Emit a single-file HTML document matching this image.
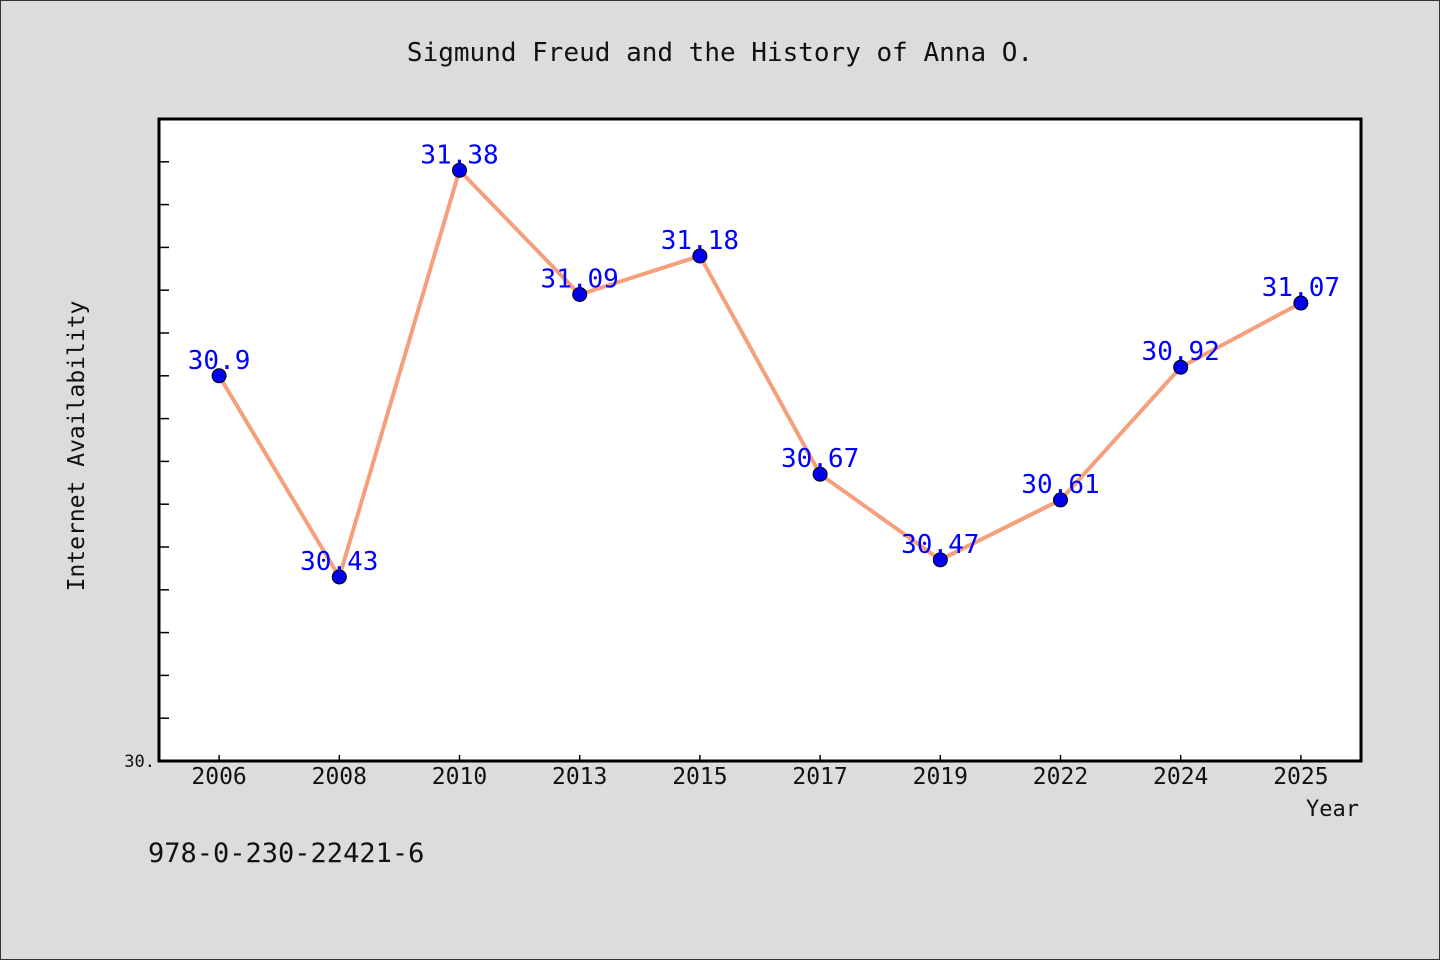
<!DOCTYPE html>
<html><head><meta charset="utf-8"><style>
body{margin:0;background:#dcdcdc;}
svg{display:block;font-family:"DejaVu Sans Mono","Liberation Mono",monospace;}
</style></head><body>
<svg id="c" width="1440" height="960" viewBox="0 0 1440 960">
<rect x="0.5" y="0.5" width="1439" height="959" fill="#dcdcdc" stroke="#333"/>
<text x="720" y="61" text-anchor="middle" font-size="26" fill="#111">Sigmund Freud and the History of Anna O.</text>
<rect x="159" y="119" width="1202" height="642" fill="#fff"/>
<g id="ticks"></g>
<g id="series"></g>
<rect x="159" y="119" width="1202" height="642" fill="none" stroke="#000" stroke-width="3"/>
<text x="155" y="767" text-anchor="end" font-size="17" fill="#111">30.</text>
<text x="84" y="446" text-anchor="middle" font-size="23" fill="#111" transform="rotate(-90 84 446)">Internet Availability</text>
<text x="1359" y="816" text-anchor="end" font-size="22" fill="#111">Year</text>
<text x="148" y="862" font-size="27" fill="#111">978-0-230-22421-6</text>
</svg>
<script>
const categories=["2006","2008","2010","2013","2015","2017","2019","2022","2024","2025"];
const values=[30.9,30.43,31.38,31.09,31.18,30.67,30.47,30.61,30.92,31.07];
const labels=["30.9","30.43","31.38","31.09","31.18","30.67","30.47","30.61","30.92","31.07"];
const yMin=30,yMax=31.5;
const L=159,R=1361,T=119,B=761;
const ns="http://www.w3.org/2000/svg";
const band=(R-L)/categories.length;
const xs=i=>L+band*(i+0.5);
const ys=v=>B-(v-yMin)/(yMax-yMin)*(B-T);
function mk(t,a,p){const e=document.createElementNS(ns,t);for(const k in a)e.setAttribute(k,a[k]);p.appendChild(e);return e;}
const tg=document.getElementById('ticks');
for(let k=1;k<15;k++){const y=ys(yMin+k*0.1);
const t=mk('line',{x1:L,x2:L+10,y1:y,y2:y,stroke:'#000','stroke-width':1.5},tg);

}
categories.forEach((c,i)=>{const x=xs(i);
const t=mk('line',{x1:x,x2:x,y1:B,y2:B-6,stroke:'#000','stroke-width':1.5},tg);


const l=mk('text',{x:x,y:784,'text-anchor':'middle','font-size':23,fill:'#111'},tg);
l.textContent=c;

});
const sg=document.getElementById('series');
const line=mk('polyline',{points:values.map((v,i)=>xs(i)+','+ys(v)).join(' '),fill:'none',stroke:'#f4a07c','stroke-width':4,'stroke-linejoin':'round'},sg);


values.forEach((v,i)=>{
const p=mk('circle',{cx:xs(i),cy:ys(v),r:7,fill:'#0000ee',stroke:'#000','stroke-width':1},sg);


const t=mk('text',{x:xs(i),y:ys(v)-7,'text-anchor':'middle','font-size':26,fill:'#0000ff'},sg);
t.textContent=labels[i];

});
</script>
</body></html>
